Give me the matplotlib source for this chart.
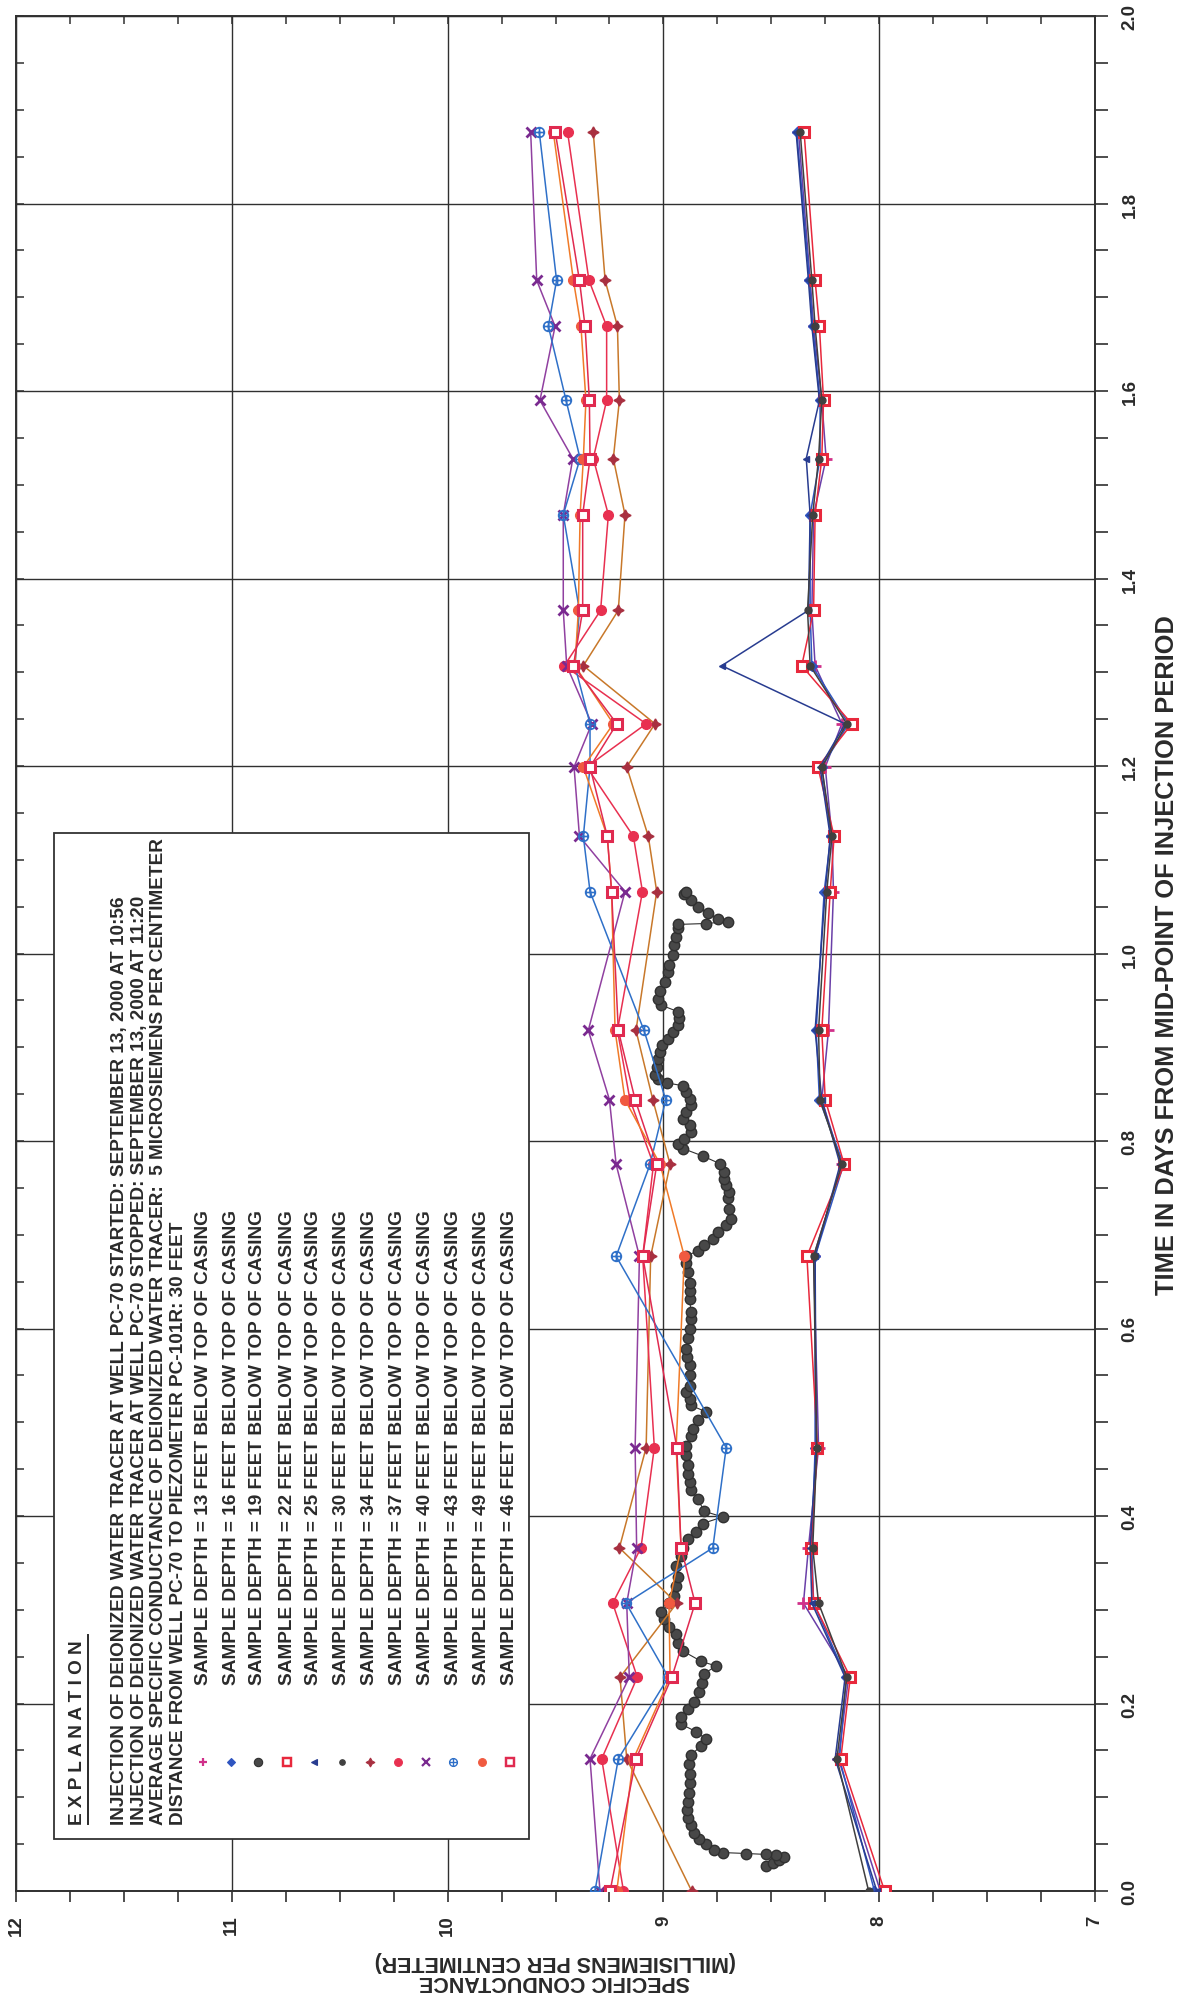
import matplotlib
matplotlib.use("Agg")
import matplotlib.pyplot as plt
from matplotlib.lines import Line2D
from matplotlib.patches import Rectangle
from matplotlib.path import Path

plt.rcParams['font.family'] = ['Liberation Sans', 'DejaVu Sans']

# sample times (days from mid-point of injection)
t_days = [0.0, 0.141, 0.228, 0.307, 0.366, 0.473, 0.677, 0.775, 0.844, 0.918, 1.066,
          1.125, 1.199, 1.245, 1.307, 1.366, 1.468, 1.528, 1.590, 1.669, 1.718, 1.876]

# specific conductance, mS/cm, per sample depth (feet below top of casing)
d13 = [7.995, 8.189, 8.142, 8.351, 8.328, 8.281, 8.304, 8.173, 8.266, 8.235, 8.212,
       8.219, 8.250, 8.173, 8.297, 8.312, 8.304, 8.246, 8.266, 8.304, 8.320, 8.374]
d16 = [8.022, 8.184, 8.153, 8.304, 8.312, 8.297, 8.297, 8.165, 8.277, 8.292, 8.255,
       8.224, 8.266, 8.142, 8.312, 8.320, 8.320, 8.274, 8.274, 8.308, 8.323, 8.382]
d22 = [7.975, 8.178, 8.134, 8.304, 8.317, 8.286, 8.335, 8.162, 8.250, 8.266, 8.227,
       8.209, 8.284, 8.127, 8.359, 8.304, 8.297, 8.266, 8.258, 8.277, 8.297, 8.348]
d25 = [8.011, 8.204, 8.158, 8.312, 8.320, 8.292, 8.297, 8.181, 8.266, 8.297, 8.250,
       8.227, 8.274, 8.158, 8.730, 8.328, 8.320, 8.338, 8.277, 8.312, 8.328, 8.385]
d30 = [8.049, 8.196, 8.150, 8.281, 8.308, 8.289, 8.304, 8.173, 8.274, 8.281, 8.243,
       8.219, 8.266, 8.150, 8.320, 8.332, 8.308, 8.281, 8.266, 8.297, 8.312, 8.366]
d34 = [8.869, 9.170, 9.201, 8.938, 9.204, 9.080, 9.059, 8.969, 9.049, 9.127, 9.031,
       9.070, 9.170, 9.039, 9.371, 9.209, 9.178, 9.232, 9.204, 9.213, 9.270, 9.325]
d37 = [9.185, 9.286, 9.121, 9.235, 9.104, 9.042, 9.096, 9.046, 9.155, 9.213, 9.097,
       9.139, 9.355, 9.080, 9.459, 9.291, 9.255, 9.325, 9.263, 9.263, 9.345, 9.444]
d40 = [9.294, 9.340, 9.158, 9.170, 9.124, 9.131, 9.111, 9.219, 9.250, 9.348, 9.178,
       9.389, 9.414, 9.332, 9.448, 9.464, 9.464, 9.420, 9.572, 9.502, 9.587, 9.615]
d43 = [9.317, 9.209, 8.977, 9.173, 8.771, 8.709, 9.219, 9.062, 8.989, 9.090, 9.340,
       9.371, 9.340, 9.340, 9.410, 9.389, 9.464, 9.386, 9.451, 9.533, 9.495, 9.575]
d49 = [9.216, 9.139, 8.969, 8.974, 8.918, 8.941, 8.903, 9.015, 9.178, 9.224, 9.240,
       9.260, 9.371, 9.232, 9.410, 9.394, 9.386, 9.371, 9.359, 9.382, 9.417, 9.510]
d46 = [9.247, 9.127, 8.961, 8.853, 8.918, 8.938, 9.096, 9.031, 9.131, 9.209, 9.240,
       9.260, 9.340, 9.216, 9.417, 9.374, 9.374, 9.340, 9.343, 9.363, 9.389, 9.501]

# 19 ft depth: continuous logger record
t19 = [0.027, 0.030, 0.033, 0.036, 0.038, 0.039, 0.040, 0.041, 0.044, 0.050, 0.056, 0.062,
       0.070, 0.078, 0.086, 0.095, 0.105, 0.115, 0.125, 0.135, 0.145, 0.155, 0.162, 0.170,
       0.178, 0.186, 0.194, 0.202, 0.212, 0.222, 0.232, 0.240, 0.245, 0.256, 0.265, 0.274,
       0.282, 0.290, 0.298, 0.307, 0.315, 0.325, 0.335, 0.347, 0.357, 0.366, 0.375, 0.383,
       0.392, 0.399, 0.405, 0.418, 0.428, 0.436, 0.445, 0.454, 0.465, 0.475, 0.485, 0.493,
       0.502, 0.511, 0.518, 0.525, 0.532, 0.539, 0.550, 0.561, 0.570, 0.578, 0.590, 0.600,
       0.610, 0.618, 0.632, 0.640, 0.649, 0.660, 0.670, 0.677, 0.683, 0.689, 0.696, 0.703,
       0.710, 0.717, 0.728, 0.739, 0.746, 0.753, 0.760, 0.767, 0.776, 0.784, 0.792, 0.797,
       0.802, 0.810, 0.817, 0.824, 0.831, 0.838, 0.845, 0.852, 0.859, 0.862, 0.866, 0.870,
       0.879, 0.888, 0.895, 0.902, 0.909, 0.916, 0.924, 0.931, 0.938, 0.945, 0.952, 0.960,
       0.970, 0.980, 0.988, 0.998, 1.009, 1.018, 1.027, 1.031, 1.032, 1.034, 1.037, 1.043,
       1.050, 1.057, 1.063, 1.066]
c19 = [8.525, 8.494, 8.463, 8.440, 8.479, 8.525, 8.615, 8.726, 8.764, 8.802, 8.833, 8.856,
       8.872, 8.887, 8.892, 8.887, 8.882, 8.879, 8.879, 8.882, 8.872, 8.825, 8.802, 8.849,
       8.918, 8.918, 8.887, 8.856, 8.833, 8.821, 8.810, 8.756, 8.825, 8.910, 8.933, 8.941,
       8.972, 8.995, 9.011, 8.972, 8.949, 8.941, 8.933, 8.941, 8.918, 8.910, 8.887, 8.849,
       8.818, 8.726, 8.810, 8.841, 8.872, 8.879, 8.887, 8.887, 8.895, 8.895, 8.872, 8.864,
       8.841, 8.802, 8.872, 8.879, 8.895, 8.879, 8.879, 8.879, 8.892, 8.895, 8.887, 8.879,
       8.872, 8.872, 8.879, 8.879, 8.879, 8.887, 8.895, 8.895, 8.841, 8.810, 8.771, 8.748,
       8.709, 8.686, 8.694, 8.702, 8.694, 8.709, 8.717, 8.717, 8.740, 8.818, 8.910, 8.933,
       8.903, 8.872, 8.879, 8.910, 8.895, 8.872, 8.879, 8.895, 8.910, 8.985, 9.023, 9.039,
       9.031, 9.023, 9.015, 9.008, 8.977, 8.954, 8.933, 8.926, 8.933, 9.011, 9.023, 9.015,
       8.992, 8.977, 8.972, 8.956, 8.949, 8.941, 8.933, 8.933, 8.802, 8.702, 8.748, 8.794,
       8.841, 8.872, 8.903, 8.895]

labels = ["SAMPLE DEPTH = 13 FEET BELOW TOP OF CASING",
          "SAMPLE DEPTH = 16 FEET BELOW TOP OF CASING",
          "SAMPLE DEPTH = 19 FEET BELOW TOP OF CASING",
          "SAMPLE DEPTH = 22 FEET BELOW TOP OF CASING",
          "SAMPLE DEPTH = 25 FEET BELOW TOP OF CASING",
          "SAMPLE DEPTH = 30 FEET BELOW TOP OF CASING",
          "SAMPLE DEPTH = 34 FEET BELOW TOP OF CASING",
          "SAMPLE DEPTH = 37 FEET BELOW TOP OF CASING",
          "SAMPLE DEPTH = 40 FEET BELOW TOP OF CASING",
          "SAMPLE DEPTH = 43 FEET BELOW TOP OF CASING",
          "SAMPLE DEPTH = 49 FEET BELOW TOP OF CASING",
          "SAMPLE DEPTH = 46 FEET BELOW TOP OF CASING"]

notes = ["INJECTION OF DEIONIZED WATER TRACER AT WELL PC-70 STARTED: SEPTEMBER 13, 2000 AT 10:56",
         "INJECTION OF DEIONIZED WATER TRACER AT WELL PC-70 STOPPED: SEPTEMBER 13, 2000 AT 11:20",
         "AVERAGE SPECIFIC CONDUCTANCE OF DEIONIZED WATER TRACER:  5 MICROSIEMENS PER CENTIMETER",
         "DISTANCE FROM WELL PC-70 TO PIEZOMETER PC-101R: 30 FEET"]

# circle with cross marker
oplus = Path.make_compound_path(
    Path.unit_circle(),
    Path([[-1, 0], [1, 0], [0, -1], [0, 1]],
         [Path.MOVETO, Path.LINETO, Path.MOVETO, Path.LINETO]))

# marker, line colour, marker colours, size
styles = [
    dict(marker='+', color='#6a3fa8', mec='#d0308a', mfc='#d0308a', ms=8, mew=2),
    dict(marker='D', color='#2f55c0', mec='#2f55c0', mfc='#2f55c0', ms=5, mew=1),
    dict(marker='o', color='#303030', mec='#303030', mfc='#484848', ms=7.5, mew=1),
    dict(marker='s', color='#e8283c', mec='#e8283c', mfc='white', ms=6.5, mew=2.2),
    dict(marker='<', color='#283c90', mec='#283c90', mfc='#283c90', ms=5, mew=1),
    dict(marker='o', color='#404040', mec='#404040', mfc='#404040', ms=5, mew=1),
    dict(marker=(4, 1, 0), color='#c8782a', mec='#a83040', mfc='#a83040', ms=8, mew=1),
    dict(marker='o', color='#e83050', mec='#e83050', mfc='#e83050', ms=7, mew=1),
    dict(marker='x', color='#9040a0', mec='#7a2a90', mfc='#7a2a90', ms=6.5, mew=2),
    dict(marker=oplus, color='#2f70c8', mec='#2f70c8', mfc='none', ms=7, mew=1.2),
    dict(marker='o', color='#f07a28', mec='#f05a40', mfc='#f05a40', ms=7, mew=1),
    dict(marker='s', color='#e02a50', mec='#e02a50', mfc='white', ms=6.5, mew=2.2),
]

series = [d13, d16, None, d22, d25, d30, d34, d37, d40, d43, d49, d46]

fig = plt.figure(figsize=(11.9, 19.99), dpi=100)
W, H = 1190, 1999


def fx(px):
    return px / W


def fy(py):
    return 1 - py / H


ax = fig.add_axes([fx(16), fy(1892), (1095 - 16) / W, (1892 - 17) / H])

# continuous record
st = styles[2]
ax.plot(c19, t19, color=st['color'], lw=0.8, marker='o', ms=st['ms'],
        mfc=st['mfc'], mec=st['mec'], zorder=3)

for vals, st in zip(series, styles):
    if vals is None:
        continue
    ax.plot(vals, t_days, color=st['color'], lw=1.1, marker=st['marker'],
            ms=st['ms'], mfc=st['mfc'], mec=st['mec'], mew=st['mew'], zorder=4)

ax.set_xlim(12, 7)
ax.set_ylim(0, 2)
ax.set_xticks([12, 11, 10, 9, 8, 7])
ax.set_xticks([12 - 0.25 * i for i in range(21)], minor=True)
ax.set_yticks([0.0, 0.2, 0.4, 0.6, 0.8, 1.0, 1.2, 1.4, 1.6, 1.8, 2.0])
ax.set_yticks([0.05 * i for i in range(41)], minor=True)
ax.set_xticklabels(['12', '11', '10', '9', '8', '7'])
ax.set_yticklabels(['%.1f' % v for v in ax.get_yticks()])
ax.yaxis.tick_right()
ax.grid(True, which='major', color='#303030', lw=1.0)
for s in ax.spines.values():
    s.set_linewidth(1.4)
    s.set_color('#303030')

ax.tick_params(axis='x', which='both', direction='out', length=8, width=1.2,
               pad=9, labelsize=13.5, labelrotation=90, color='#303030')
ax.tick_params(axis='y', which='both', direction='out', length=9, width=1.2,
               pad=10, labelsize=13.5, labelrotation=90, color='#303030')
for lab in ax.get_xticklabels() + ax.get_yticklabels():
    lab.set_fontweight('bold')
    lab.set_color('#2a2a2a')
for lab in ax.get_yticklabels():
    lab.set_va('center')

# inward ticks on the other two sides
sx = ax.secondary_xaxis('top')
sx.set_xticks([12 - 0.25 * i for i in range(21)])
sx.tick_params(direction='in', length=6, width=1.1, labeltop=False, color='#303030')
sy = ax.secondary_yaxis('left')
sy.set_yticks([0.05 * i for i in range(41)])
sy.tick_params(direction='in', length=6, width=1.1, labelleft=False, color='#303030')

# axis titles
fig.text(fx(1167), fy(955), 'TIME IN DAYS FROM MID-POINT OF INJECTION PERIOD',
         rotation=90, ha='center', va='center', fontsize=18.3, fontweight='bold',
         color='#2a2a2a')
fig.text(fx(555), fy(1962), '(MILLISIEMENS PER CENTIMETER)', rotation=180,
         ha='center', va='center', fontsize=15.5, fontweight='bold', color='#2a2a2a')
fig.text(fx(555), fy(1982), 'SPECIFIC CONDUCTANCE', rotation=180,
         ha='center', va='center', fontsize=15.5, fontweight='bold', color='#2a2a2a')

# explanation box
fig.add_artist(Rectangle((fx(54), fy(1840)), fx(529) - fx(54), fy(834) - fy(1840),
                         transform=fig.transFigure, facecolor='white',
                         edgecolor='#333333', lw=1.3, zorder=5))
fig.text(fx(78), fy(1825), 'E X P L A N A T I O N', rotation=90, ha='center',
         va='bottom', fontsize=13.7, fontweight='bold', color='#2a2a2a', zorder=6)
fig.add_artist(Line2D([fx(88), fx(88)], [fy(1825), fy(1636)], transform=fig.transFigure,
                      color='#2a2a2a', lw=1.4, zorder=6))
for xp, note in zip([120, 139.5, 159, 178.5], notes):
    fig.text(fx(xp), fy(1825), note, rotation=90, ha='center', va='bottom',
             fontsize=13.7, fontweight='bold', color='#2a2a2a', zorder=6)

leg_x = [203, 231, 258, 287, 314, 342, 370, 398, 426, 453, 482, 510]
for xp, lab, st in zip(leg_x, labels, styles):
    fig.add_artist(Line2D([fx(xp)], [fy(1763)], transform=fig.transFigure, ls='none',
                          marker=st['marker'], ms=st['ms'] * 0.8, mfc=st['mfc'],
                          mec=st['mec'], mew=st['mew'] * 0.8, zorder=6))
    fig.text(fx(xp), fy(1685), lab, rotation=90, ha='center', va='bottom',
             fontsize=13.7, fontweight='bold', color='#2a2a2a', zorder=6)

fig.savefig('out.png', dpi=100, facecolor='white')
